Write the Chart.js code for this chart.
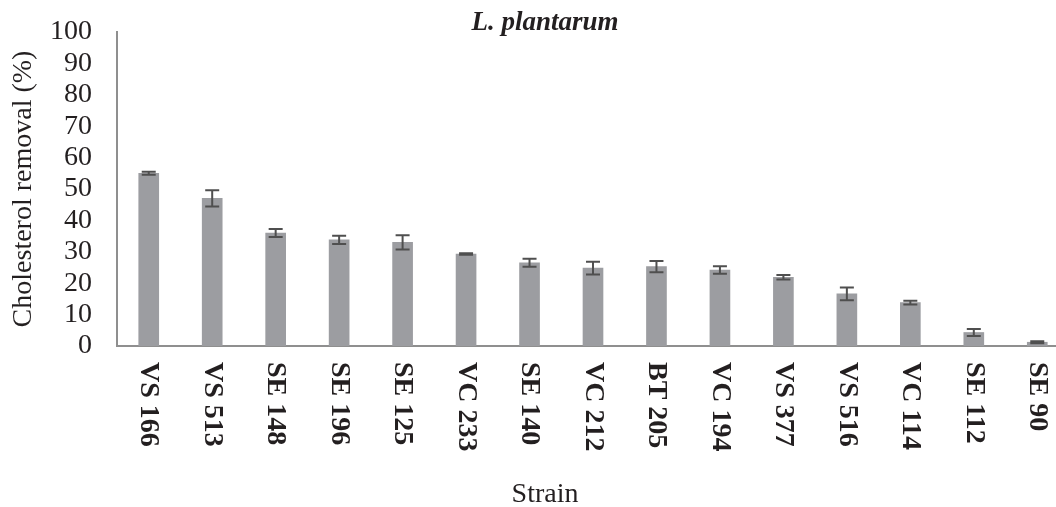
<!DOCTYPE html>
<html>
<head>
<meta charset="utf-8">
<script src="https://cdn.jsdelivr.net/npm/chart.js@4/dist/chart.umd.min.js"></script>
<style>
  html, body { margin: 0; padding: 0; background: #ffffff; overflow: hidden; }
  #wrap { position: absolute; left: 0; top: 0; width: 1090px; height: 507px; }
</style>
</head>
<body>
<div id="wrap"><canvas id="chart" width="1090" height="507"></canvas></div>
<script>
// Strains and their cholesterol removal (%) with standard deviations
const strains = ['VS 166', 'VS 513', 'SE 148', 'SE 196', 'SE 125', 'VC 233', 'SE 140', 'VC 212',
                 'BT 205', 'VC 194', 'VS 377', 'VS 516', 'VC 114', 'SE 112', 'SE 90'];
const removal = [55.0, 47.0, 36.0, 33.8, 33.0, 29.3, 26.5, 24.8, 25.3, 24.2, 21.9, 16.6, 13.8, 4.3, 1.2];
const errors  = [0.5, 2.6, 1.3, 1.3, 2.3, 0.2, 1.3, 2.0, 1.8, 1.2, 0.7, 2.0, 0.6, 1.1, 0.3];
const yTicks  = [0, 10, 20, 30, 40, 50, 60, 70, 80, 90, 100];

const SERIF = '"Liberation Serif", "Times New Roman", serif';
const INK = '#231f20';

// Whiskers for the standard deviation of each bar
const errorBars = {
  id: 'errorBars',
  afterDatasetsDraw(chart) {
    const { ctx, scales: { x, y } } = chart;
    ctx.save();
    ctx.strokeStyle = '#4f4f4f';
    ctx.lineWidth = 2;
    removal.forEach((v, i) => {
      const cx = x.getPixelForValue(i);
      const yHi = y.getPixelForValue(v + errors[i]);
      const yLo = y.getPixelForValue(v - errors[i]);
      ctx.beginPath();
      ctx.moveTo(cx, yHi); ctx.lineTo(cx, yLo);
      ctx.moveTo(cx - 7, yHi); ctx.lineTo(cx + 7, yHi);
      ctx.moveTo(cx - 7, yLo); ctx.lineTo(cx + 7, yLo);
      ctx.stroke();
    });
    ctx.restore();
  }
};

// Category labels written top-to-bottom under each bar
const verticalLabels = {
  id: 'verticalLabels',
  afterDraw(chart) {
    const { ctx, scales: { x } } = chart;
    ctx.save();
    ctx.fillStyle = INK;
    ctx.font = 'bold 28px ' + SERIF;
    ctx.textAlign = 'left';
    ctx.textBaseline = 'middle';
    strains.forEach((s, i) => {
      const cx = x.getPixelForValue(i);
      ctx.save();
      ctx.translate(cx, x.top + 16);
      ctx.rotate(Math.PI / 2);
      ctx.fillText(s, 0, 0);
      ctx.restore();
    });
    ctx.restore();
  }
};

new Chart(document.getElementById('chart'), {
  type: 'bar',
  data: {
    labels: strains,
    datasets: [{
      data: removal,
      backgroundColor: '#9c9da1',
      borderWidth: 0,
      barThickness: 20
    }]
  },
  options: {
    responsive: false,
    animation: false,
    devicePixelRatio: 1,
    layout: { padding: { left: 21, right: 21, top: 0, bottom: 0 } },
    plugins: {
      legend: { display: false },
      tooltip: { enabled: false },
      title: {
        display: true,
        text: 'L. plantarum',
        color: INK,
        font: { family: SERIF, size: 27, style: 'italic', weight: 'bold', lineHeight: 1 },
        padding: { top: 10, bottom: -5 }
      },
      subtitle: {
        display: true,
        position: 'bottom',
        text: 'Strain',
        color: INK,
        font: { family: SERIF, size: 28, weight: 'normal', lineHeight: 1 },
        padding: { top: 0, bottom: -2 }
      }
    },
    scales: {
      x: {
        grid: { display: false, drawTicks: false },
        border: { display: true, color: '#8f8f8f', width: 2 },
        ticks: { display: false },
        afterFit(scale) { scale.height = 135; }
      },
      y: {
        min: 0,
        max: 100,
        afterBuildTicks(scale) { scale.ticks = yTicks.map(v => ({ value: v })); },
        grid: { display: false, drawTicks: true, tickLength: 25 },
        border: { display: true, color: '#8f8f8f', width: 2 },
        ticks: {
          color: INK,
          font: { family: SERIF, size: 28, lineHeight: 1 },
          padding: 0,
          autoSkip: false
        },
        title: {
          display: true,
          text: 'Cholesterol removal (%)',
          color: INK,
          font: { family: SERIF, size: 28, lineHeight: 1 },
          padding: { top: -11, bottom: 0 }
        },
        afterFit(scale) { scale.width = 96; }
      }
    }
  },
  plugins: [errorBars, verticalLabels]
});
</script>
</body>
</html>
